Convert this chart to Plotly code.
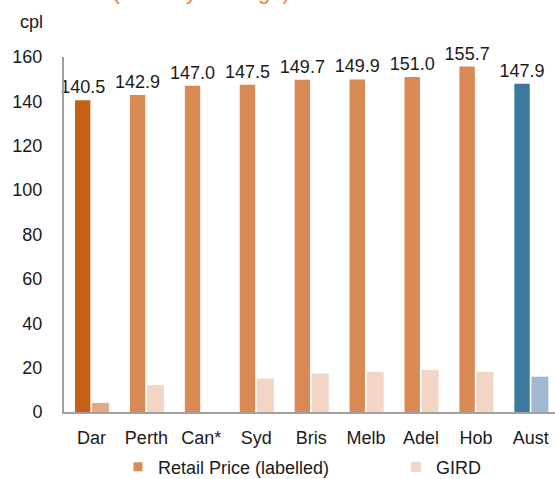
import plotly.graph_objects as go

cities = ["Dar", "Perth", "Can*", "Syd", "Bris", "Melb", "Adel", "Hob", "Aust"]
retail = [140.5, 142.9, 147.0, 147.5, 149.7, 149.9, 151.0, 155.7, 147.9]
gird = [4.1, 12.1, None, 15.1, 17.3, 18.1, 19.0, 18.1, 15.9]
retail_labels = ["140.5", "142.9", "147.0", "147.5", "149.7", "149.9", "151.0", "155.7", "147.9"]

C_RET = "#D98A54"
C_RET_DAR = "#C65F18"
C_RET_AUS = "#3B7A9E"
C_GIRD = "#F2D5C4"
C_GIRD_DAR = "#E4A983"
C_GIRD_AUS = "#A0B9D1"

ret_colors = [C_RET_DAR] + [C_RET] * 7 + [C_RET_AUS]
gird_colors = [C_GIRD_DAR] + [C_GIRD] * 7 + [C_GIRD_AUS]

FONT = "Liberation Sans, Arial, sans-serif"
TXT = "#1a1a1a"

fig = go.Figure()
fig.add_trace(go.Bar(
    x=cities, y=retail, marker=dict(color=ret_colors, line=dict(width=0)),
    width=0.28, offset=-0.30, showlegend=False,
    text=retail_labels, textposition="outside", cliponaxis=False,
    constraintext="none", textfont=dict(size=18, color=TXT, family=FONT),
    hoverinfo="x+y"))
fig.add_trace(go.Bar(
    x=cities, y=gird, marker=dict(color=gird_colors, line=dict(width=0)),
    width=0.31, offset=0.01, showlegend=False, hoverinfo="x+y"))

# legend entries
fig.add_trace(go.Scatter(x=[None], y=[None], mode="markers", name="Retail Price (labelled)",
                         legend="legend",
                         marker=dict(symbol="square", size=9, color=C_RET)))
fig.add_trace(go.Scatter(x=[None], y=[None], mode="markers", name="GIRD",
                         legend="legend2",
                         marker=dict(symbol="square", size=10, color=C_GIRD)))

leg_common = dict(orientation="h", yanchor="top", y=-0.103,
                  font=dict(size=18, color=TXT, family=FONT),
                  bgcolor="rgba(0,0,0,0)", itemclick=False, itemdoubleclick=False)

fig.update_layout(
    width=555, height=479,
    margin=dict(l=64, r=0, t=57, b=67, autoexpand=False),
    paper_bgcolor="white", plot_bgcolor="white",
    barmode="overlay",
    font=dict(family=FONT, size=18, color=TXT),
    showlegend=True,
    legend=dict(x=(118 - 64) / 491, xanchor="left", **leg_common),
    legend2=dict(x=(396 - 64) / 491, xanchor="left", **leg_common),
    xaxis=dict(type="category", categoryorder="array", categoryarray=cities,
               range=[-0.5, 8.44], showgrid=False, zeroline=False, automargin=False,
               showline=True, linecolor="#A0A0A0", linewidth=2,
               ticks="", tickfont=dict(size=18, color=TXT, family=FONT),
               ticklabelstandoff=8),
    yaxis=dict(range=[0, 160], tickvals=list(range(0, 161, 20)), showgrid=False,
               zeroline=False, showline=True, linecolor="#A0A0A0", linewidth=2,
               automargin=False,
               ticks="", tickfont=dict(size=18, color=TXT, family=FONT),
               ticklabelstandoff=16),
    annotations=[
        dict(text="cpl", xref="paper", yref="paper", x=(18 - 64) / 491, y=1 + (57 - 22) / 354,
             xanchor="left", yanchor="middle", showarrow=False,
             font=dict(size=18, color=TXT, family=FONT)),
        dict(text="Retail price and GIRD difference (monthly average)", xref="paper", yref="paper",
             x=(292 - 64) / 491, y=1 + (57 + 8) / 354, xanchor="right", yanchor="middle",
             showarrow=False, font=dict(size=22, color="#E8823D", family=FONT)),
    ],
)

fig.write_html("out.html", config={"displayModeBar": False},
               post_script="document.body.style.margin='0';")
